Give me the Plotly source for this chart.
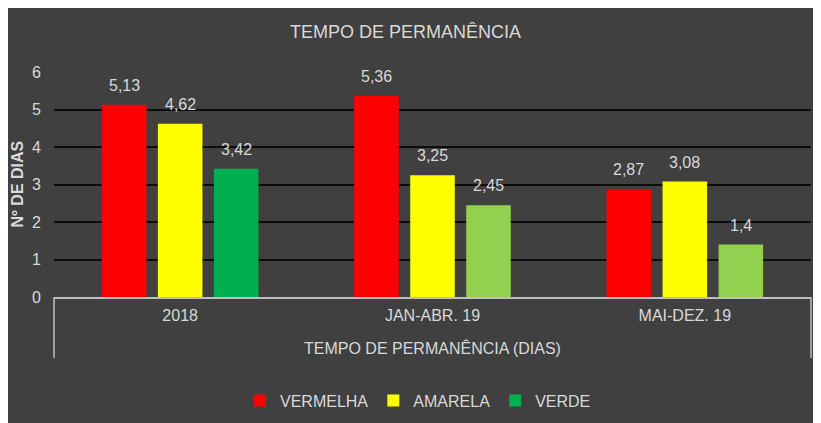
import plotly.graph_objects as go

categories = ["2018", "JAN-ABR. 19", "MAI-DEZ. 19"]
vermelha = [5.13, 5.36, 2.87]
amarela = [4.62, 3.25, 3.08]
verde = [3.42, 2.45, 1.4]
series_names = ["VERMELHA", "AMARELA", "VERDE"]
y_ticks = [0, 1, 2, 3, 4, 5, 6]

W, H = 821, 423
OFF = 8  # page body margin
PX_L, PX_R, PX_T, PX_B = 54, 811, 72, 297  # plot area in screenshot pixels
L, T = PX_L - OFF, PX_T - OFF
R = W - (PX_R - OFF)
B = H - (PX_B - OFF)
PW, PH = PX_R - PX_L, PX_B - PX_T

def px_x(p):
    return (p - PX_L) / PW

def px_y(p):
    return (PX_B - p) / PH

FONT = "Liberation Sans, Arial, sans-serif"
TXT = "#d9d9d9"

def fmt(v):
    return f"{v:g}".replace(".", ",")

verde_colors = ["#00B050", "#92D050", "#92D050"]

fig = go.Figure()
fig.add_trace(go.Bar(x=categories, y=vermelha, name=series_names[0],
                     marker=dict(color="#FF0000", line=dict(width=0))))
fig.add_trace(go.Bar(x=categories, y=amarela, name=series_names[1],
                     marker=dict(color="#FFFF00", line=dict(width=0))))
fig.add_trace(go.Bar(x=categories, y=verde, name=series_names[2],
                     marker=dict(color=verde_colors, line=dict(width=0))))

annotations = []
slot = PW / 3 * (1 - 0.334) / 3
for si, vals in enumerate([vermelha, amarela, verde]):
    for ci, v in enumerate(vals):
        annotations.append(dict(x=ci, y=v, xref="x", yref="y",
                                text=fmt(v), showarrow=False, yanchor="bottom",
                                xshift=(si - 1) * slot, yshift=9,
                                font=dict(family=FONT, size=16, color=TXT)))

annotations += [
    dict(text="TEMPO DE PERMANÊNCIA", x=px_x(405.5), y=px_y(31.5), xref="paper", yref="paper",
         showarrow=False, xanchor="center", yanchor="middle",
         font=dict(family=FONT, size=18, color=TXT)),
    dict(text="TEMPO DE PERMANÊNCIA (DIAS)", x=px_x(432), y=px_y(347.5), xref="paper", yref="paper",
         showarrow=False, xanchor="center", yanchor="middle",
         font=dict(family=FONT, size=16, color=TXT)),
    dict(text="<b>Nº DE DIAS</b>", x=px_x(17), y=px_y(184.5), xref="paper", yref="paper",
         showarrow=False, xanchor="center", yanchor="middle", textangle=-90,
         font=dict(family=FONT, size=16, color=TXT)),
]

shapes = [
    dict(type="line", xref="paper", yref="paper", x0=0, x1=0, y0=0, y1=px_y(358),
         line=dict(color="#bfbfbf", width=1.5)),
    dict(type="line", xref="paper", yref="paper", x0=1, x1=1, y0=0, y1=px_y(358),
         line=dict(color="#bfbfbf", width=1.5)),
]

fig.update_layout(
    width=W, height=H,
    margin=dict(l=L, r=R, t=T, b=B),
    paper_bgcolor="#404040", plot_bgcolor="#404040",
    barmode="group", bargap=0.334, bargroupgap=0.205,
    font=dict(family=FONT, size=16, color=TXT),
    showlegend=True,
    legend=dict(orientation="h", x=px_x(418), y=px_y(400.5), xanchor="center", yanchor="middle",
                font=dict(family=FONT, size=16, color=TXT), bgcolor="rgba(0,0,0,0)",
                traceorder="normal"),
    annotations=annotations,
    shapes=shapes,
)
fig.update_xaxes(type="category", range=[-0.5, len(categories) - 0.5], showline=True,
                 linecolor="#bfbfbf", linewidth=1.5, showgrid=False,
                 ticks="", tickfont=dict(family=FONT, size=16, color=TXT), ticklabelstandoff=3)
fig.update_yaxes(range=[0, 6], tickvals=y_ticks, showgrid=True, gridcolor="#0d0d0d", gridwidth=2,
                 zeroline=False, showline=False, ticks="", ticklabelstandoff=12,
                 tickfont=dict(family=FONT, size=16, color=TXT))

fig.write_html("out.html")
